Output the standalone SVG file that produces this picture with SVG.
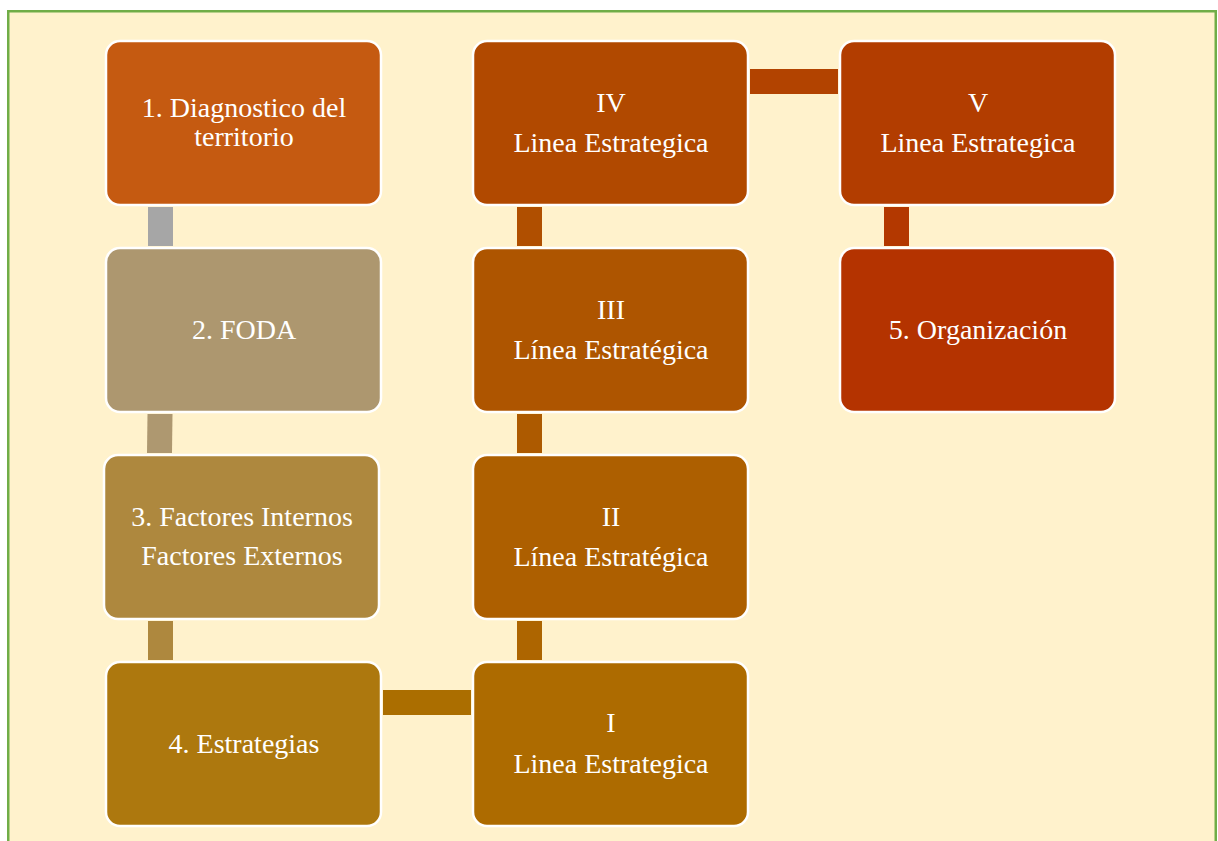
<svg xmlns="http://www.w3.org/2000/svg" width="1218" height="841" viewBox="0 0 1218 841">
<style>
.box{stroke:#ffffff;stroke-width:2.5}
.t{font-family:'Liberation Serif','DejaVu Serif',serif;font-size:28px;fill:#ffffff;text-anchor:middle}
</style>
<rect x="0" y="0" width="1218" height="841" fill="#ffffff"/>
<rect x="8.25" y="11.25" width="1207.5" height="845" fill="#fff2cc" stroke="#70ad47" stroke-width="2.5"/>
<g id="connectors">
<rect x="148" y="207" width="25" height="39" fill="#a6a6a6"/>
<polygon points="147.5,414 172.5,414 172,453 147,453" fill="#ae9870"/>
<rect x="148" y="621" width="25" height="39" fill="#ae883e"/>
<rect x="383" y="690" width="88" height="25" fill="#ab6e00"/>
<rect x="517" y="621" width="25" height="39" fill="#ad6500"/>
<rect x="517" y="414" width="25" height="39" fill="#ad5a00"/>
<rect x="517" y="207" width="25" height="39" fill="#b04f00"/>
<rect x="750" y="69" width="88" height="25" fill="#b24300"/>
<rect x="884" y="207" width="25" height="39" fill="#b33800"/>
</g>
<g id="n1"><rect class="box" x="106" y="41" width="275" height="164" rx="14" fill="#c55a11"/>
<text class="t" x="244" y="117">1. Diagnostico del</text><text class="t" x="244" y="146">territorio</text></g>
<g id="n2"><rect class="box" x="106" y="248" width="275" height="164" rx="14" fill="#ad976f"/>
<text class="t" x="244" y="339">2. FODA</text></g>
<g id="n3"><rect class="box" x="104" y="455" width="275" height="164" rx="14" fill="#ae883e"/>
<text class="t" x="242" y="526">3. Factores Internos</text><text class="t" x="242" y="565">Factores Externos</text></g>
<g id="n4"><rect class="box" x="106" y="662" width="275" height="164" rx="14" fill="#ad780e"/>
<text class="t" x="244" y="753">4. Estrategias</text></g>
<g id="nI"><rect class="box" x="473" y="662" width="275" height="164" rx="14" fill="#ad6b00"/>
<text class="t" x="611" y="732">I</text><text class="t" x="611" y="773">Linea Estrategica</text></g>
<g id="nII"><rect class="box" x="473" y="455" width="275" height="164" rx="14" fill="#ad5f00"/>
<text class="t" x="611" y="526">II</text><text class="t" x="611" y="566">Línea Estratégica</text></g>
<g id="nIII"><rect class="box" x="473" y="248" width="275" height="164" rx="14" fill="#ae5500"/>
<text class="t" x="611" y="319">III</text><text class="t" x="611" y="359">Línea Estratégica</text></g>
<g id="nIV"><rect class="box" x="473" y="41" width="275" height="164" rx="14" fill="#b14900"/>
<text class="t" x="611" y="112">IV</text><text class="t" x="611" y="152">Linea Estrategica</text></g>
<g id="nV"><rect class="box" x="840" y="41" width="275" height="164" rx="14" fill="#b23d00"/>
<text class="t" x="978" y="112">V</text><text class="t" x="978" y="152">Linea Estrategica</text></g>
<g id="n5"><rect class="box" x="840" y="248" width="275" height="164" rx="14" fill="#b43300"/>
<text class="t" x="978" y="339">5. Organización</text></g>
</svg>
